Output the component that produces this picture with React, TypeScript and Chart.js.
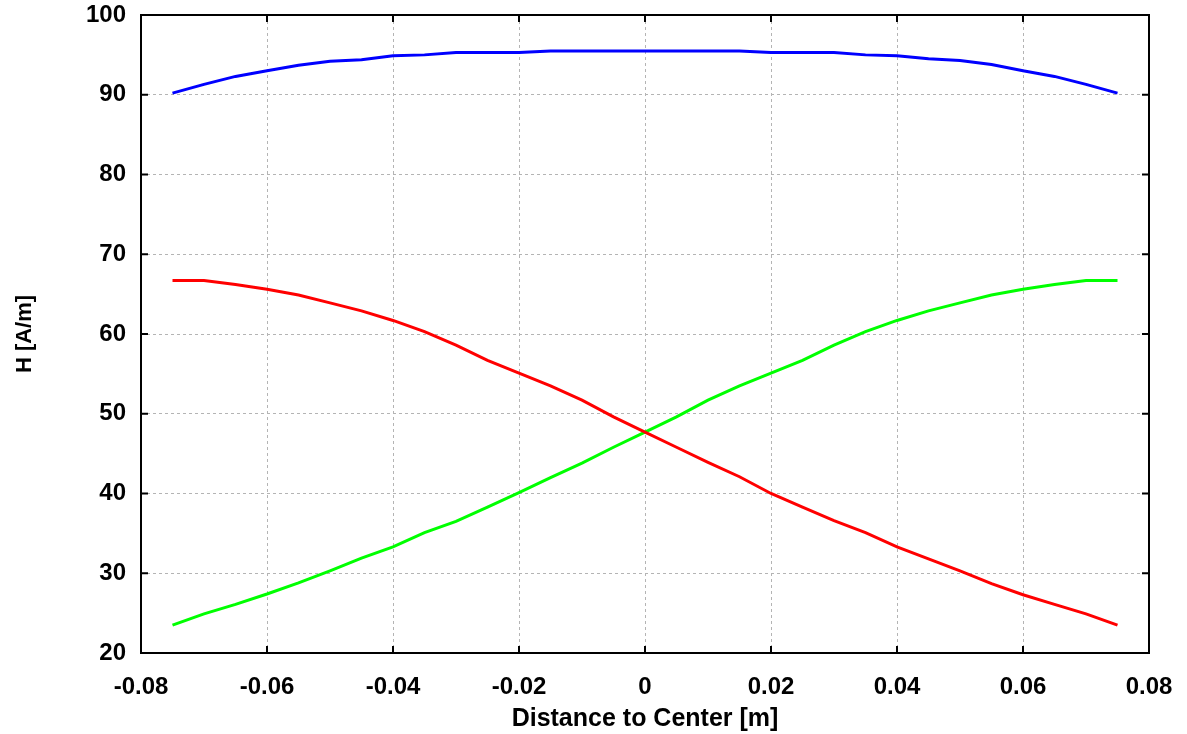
import React, { useEffect, useRef } from "react";
import { Chart, registerables } from "chart.js";

Chart.register(...registerables);

const positions = [
  -0.075, -0.07, -0.065, -0.06, -0.055, -0.05, -0.045, -0.04, -0.035, -0.03, -0.025, -0.02, -0.015, -0.01, -0.005,
  0, 0.005, 0.01, 0.015, 0.02, 0.025, 0.03, 0.035, 0.04, 0.045, 0.05, 0.055, 0.06, 0.065, 0.07, 0.075,
];

const blueH = [
  90.2, 91.3, 92.3, 93.0, 93.7, 94.2, 94.4, 94.9, 95.0, 95.3, 95.3, 95.3, 95.5, 95.5, 95.5,
  95.5, 95.5, 95.5, 95.5, 95.3, 95.3, 95.3, 95.0, 94.9, 94.5, 94.3, 93.8, 93.0, 92.3, 91.3, 90.2,
];

const redH = [
  66.7, 66.7, 66.2, 65.6, 64.9, 63.9, 62.9, 61.7, 60.3, 58.6, 56.7, 55.1, 53.5, 51.7, 49.6,
  47.7, 45.8, 43.9, 42.1, 40.0, 38.3, 36.6, 35.1, 33.3, 31.8, 30.3, 28.7, 27.3, 26.1, 24.9, 23.5,
];

const greenH = [
  23.5, 24.9, 26.1, 27.4, 28.8, 30.3, 31.9, 33.3, 35.1, 36.5, 38.3, 40.1, 42.0, 43.8, 45.8,
  47.7, 49.6, 51.7, 53.5, 55.1, 56.7, 58.6, 60.3, 61.7, 62.9, 63.9, 64.9, 65.6, 66.2, 66.7, 66.7,
];

const xTitle = "Distance to Center [m]";
const yTitle = "H [A/m]";

const FONT = "'Liberation Sans', Arial, Helvetica, sans-serif";

const framePlugin = {
  id: "frameTicks",
  afterDraw(chart: any) {
    const { ctx, chartArea } = chart;
    const { left, right, top, bottom } = chartArea;
    const tl = 7;
    ctx.save();
    ctx.strokeStyle = "#000";
    ctx.lineWidth = 2;
    const xs = chart.scales.x;
    const ys = chart.scales.y;
    ctx.beginPath();
    xs.ticks.forEach((t: any) => {
      const px = xs.getPixelForValue(t.value);
      ctx.moveTo(px, bottom);
      ctx.lineTo(px, bottom - tl);
      ctx.moveTo(px, top);
      ctx.lineTo(px, top + tl);
    });
    ys.ticks.forEach((t: any) => {
      const py = ys.getPixelForValue(t.value);
      ctx.moveTo(left, py);
      ctx.lineTo(left + tl, py);
      ctx.moveTo(right, py);
      ctx.lineTo(right - tl, py);
    });
    ctx.stroke();
    ctx.strokeRect(left, top, right - left, bottom - top);
    ctx.restore();
  },
};

export default function App() {
  const ref = useRef<HTMLCanvasElement | null>(null);

  useEffect(() => {
    if (!ref.current) return;
    const mk = (vals: number[]) => positions.map((x, i) => ({ x, y: vals[i] }));
    const chart = new Chart(ref.current, {
      type: "line",
      data: {
        datasets: [
          { data: mk(blueH), borderColor: "#0000ff", borderWidth: 3, pointRadius: 0, tension: 0 },
          { data: mk(redH), borderColor: "#ff0000", borderWidth: 3, pointRadius: 0, tension: 0 },
          { data: mk(greenH), borderColor: "#00ff00", borderWidth: 3, pointRadius: 0, tension: 0 },
        ],
      },
      options: {
        responsive: false,
        animation: false,
        devicePixelRatio: 1,
        layout: { padding: { top: 15, right: 38, left: 0, bottom: 0 } },
        plugins: { legend: { display: false }, tooltip: { enabled: false } },
        scales: {
          x: {
            type: "linear",
            min: -0.08,
            max: 0.08,
            afterFit: (s: any) => {
              s.height = 81;
              s.paddingLeft = 0;
              s.paddingRight = 0;
            },
            ticks: {
              stepSize: 0.02,
              padding: 20,
              color: "#000",
              font: { family: FONT, size: 24, weight: "bold" },
              callback: (v: any) => Number(Number(v).toFixed(2)).toString(),
              maxRotation: 0,
            },
            grid: { color: "#b4b4b4", lineWidth: 1, drawTicks: false, tickLength: 0 },
            border: { display: false, dash: [3, 3] },
            title: {
              display: true,
              text: xTitle,
              color: "#000",
              font: { family: FONT, size: 25, weight: "bold" },
              padding: { top: 0, bottom: 0 },
            },
          },
          y: {
            min: 20,
            max: 100,
            afterFit: (s: any) => {
              s.width = 141;
              s.paddingTop = 0;
              s.paddingBottom = 0;
            },
            ticks: {
              stepSize: 10,
              padding: 15,
              color: "#000",
              font: { family: FONT, size: 24, weight: "bold" },
            },
            grid: { color: "#b4b4b4", lineWidth: 1, drawTicks: false, tickLength: 0 },
            border: { display: false, dash: [3, 3] },
            title: {
              display: true,
              text: yTitle,
              color: "#000",
              font: { family: FONT, size: 22, weight: "bold" },
              padding: { top: 12, bottom: 0 },
            },
          },
        },
      },
      plugins: [framePlugin],
    } as any);
    return () => chart.destroy();
  }, []);

  return (
    <div style={{ position: "fixed", left: 0, top: 0, width: 1187, height: 734, background: "#fff" }}>
      <canvas ref={ref} width={1187} height={734} style={{ display: "block" }} />
    </div>
  );
}
